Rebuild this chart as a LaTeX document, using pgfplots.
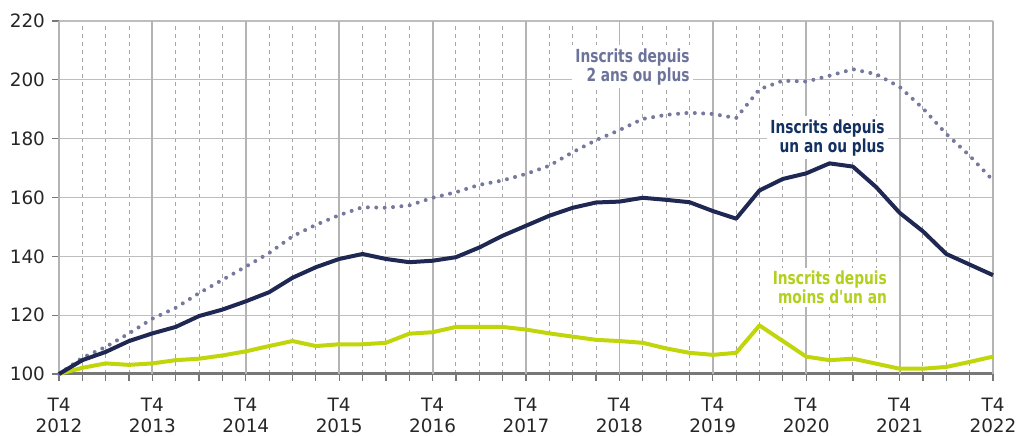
\documentclass[border=0pt]{standalone}
\usepackage{pgfplots}
\pgfplotsset{compat=1.18}
\usepackage{fontspec}
\setmainfont{DejaVu Sans}
\newfontfamily\labfont[FakeStretch=0.85]{DejaVu Sans Condensed}
\definecolor{navy}{RGB}{30,40,82}
\definecolor{dotc}{RGB}{118,120,158}
\definecolor{lime}{RGB}{192,214,10}
\definecolor{lab2}{RGB}{108,116,155}
\definecolor{lab1}{RGB}{18,48,98}
\definecolor{labg}{RGB}{178,208,30}
\definecolor{gridg}{RGB}{190,190,190}
\definecolor{gridv}{RGB}{180,180,180}
\definecolor{gridd}{RGB}{165,165,165}
\definecolor{axisd}{RGB}{120,120,120}
\begin{document}
\begin{tikzpicture}
\begin{axis}[
  scale only axis, width=467pt, height=176.5pt,
  xmin=0, xmax=40, ymin=100, ymax=220,
  axis x line*=bottom, axis y line*=left,
  xtick={0,4,8,12,16,20,24,28,32,36,40},
  xticklabels={T4\\2012,T4\\2013,T4\\2014,T4\\2015,T4\\2016,T4\\2017,T4\\2018,T4\\2019,T4\\2020,T4\\2021,T4\\2022},
  minor xtick={1,2,3,5,6,7,9,10,11,13,14,15,17,18,19,21,22,23,25,26,27,29,30,31,33,34,35,37,38,39},
  ytick={100,120,...,220},
  xminorgrids, ymajorgrids,
  major grid style={draw=gridg, solid, line width=0.6pt},
  minor grid style={draw=gridd, dash pattern=on 2pt off 2pt, line width=0.5pt},
  tick align=outside, major tick length=3.5pt, minor tick length=3.5pt,
  tick style={draw=axisd, solid, line width=0.6pt},
  x axis line style={draw=axisd, line width=1.5pt},
  y axis line style={draw=gridv, line width=0.9pt},
  /pgf/number format/assume math mode=true,
  ticklabel style={font=\fontsize{9.2}{10.8}\selectfont, text=black!85},
  xticklabel style={align=center, yshift=-4.8pt},
  clip=false,
]
\coordinate (bl) at (rel axis cs:0,0);
\coordinate (tr) at (rel axis cs:1,1);
\pgfplotsinvokeforeach{4,8,12,16,20,24,28,32,36,40}{
  \draw[gridv, solid, line width=0.9pt] (axis cs:#1,100) -- (axis cs:#1,220);
}
\addplot[dotc, line width=2pt, line cap=round, dash pattern=on 0pt off 4.2pt] coordinates {
(0,100)(1,105.5)(2,109.2)(3,113.8)(4,118.8)(5,122.5)(6,127.5)(7,132)(8,136.5)(9,141.1)
(10,146.8)(11,150.7)(12,154)(13,156.7)(14,156.5)(15,157.3)(16,159.9)(17,161.8)(18,164.3)(19,165.8)
(20,168)(21,170.8)(22,175.4)(23,179.5)(24,182.9)(25,186.7)(26,188.1)(27,188.8)(28,188.4)(29,187)
(30,196.8)(31,199.7)(32,199.4)(33,201.4)(34,203.6)(35,201.9)(36,197.6)(37,190.3)(38,181.6)(39,174.2)(40,165.8)};
\addplot[lime, line width=2pt, line join=round] coordinates {
(0,100)(1,102.1)(2,103.6)(3,103.1)(4,103.6)(5,104.7)(6,105.2)(7,106.3)(8,107.7)(9,109.5)
(10,111.2)(11,109.5)(12,110.1)(13,110.1)(14,110.6)(15,113.7)(16,114.2)(17,116)(18,116)(19,116)
(20,115.1)(21,113.8)(22,112.7)(23,111.6)(24,111.2)(25,110.6)(26,108.7)(27,107.2)(28,106.5)(29,107.2)
(30,116.5)(31,111.2)(32,105.9)(33,104.7)(34,105.2)(35,103.5)(36,101.8)(37,101.8)(38,102.4)(39,104.1)(40,105.9)};
\addplot[navy, line width=2pt, line join=round] coordinates {
(0,100)(1,104.7)(2,107.5)(3,111.2)(4,113.8)(5,116)(6,119.7)(7,121.9)(8,124.7)(9,127.8)
(10,132.7)(11,136.3)(12,139.1)(13,140.8)(14,139.1)(15,138)(16,138.5)(17,139.7)(18,143)(19,147)
(20,150.4)(21,153.8)(22,156.5)(23,158.3)(24,158.6)(25,159.9)(26,159.2)(27,158.4)(28,155.4)(29,152.8)
(30,162.4)(31,166.3)(32,168.2)(33,171.6)(34,170.5)(35,163.5)(36,154.8)(37,148.5)(38,140.8)(39,137.2)(40,133.6)};
\node[anchor=east, align=right, fill=white, inner sep=1.5pt, text=lab2, font=\labfont\bfseries\fontsize{9}{8}\selectfont] at (axis cs:27.15,204.4) {Inscrits depuis\\2 ans ou plus};
\node[anchor=east, align=right, fill=white, inner sep=1.5pt, text=lab1, font=\labfont\bfseries\fontsize{9}{8}\selectfont] at (axis cs:35.5,180.3) {Inscrits depuis\\un an ou plus};
\node[anchor=east, align=right, fill=white, inner sep=1.5pt, text=labg, font=\labfont\bfseries\fontsize{9}{8}\selectfont] at (axis cs:35.6,129.5) {Inscrits depuis\\moins d'un an};
\end{axis}
\pgfresetboundingbox
\path ([shift={(-29.5pt,-31pt)}]bl) rectangle ([shift={(12.5pt,10.5pt)}]tr);
\end{tikzpicture}
\end{document}
